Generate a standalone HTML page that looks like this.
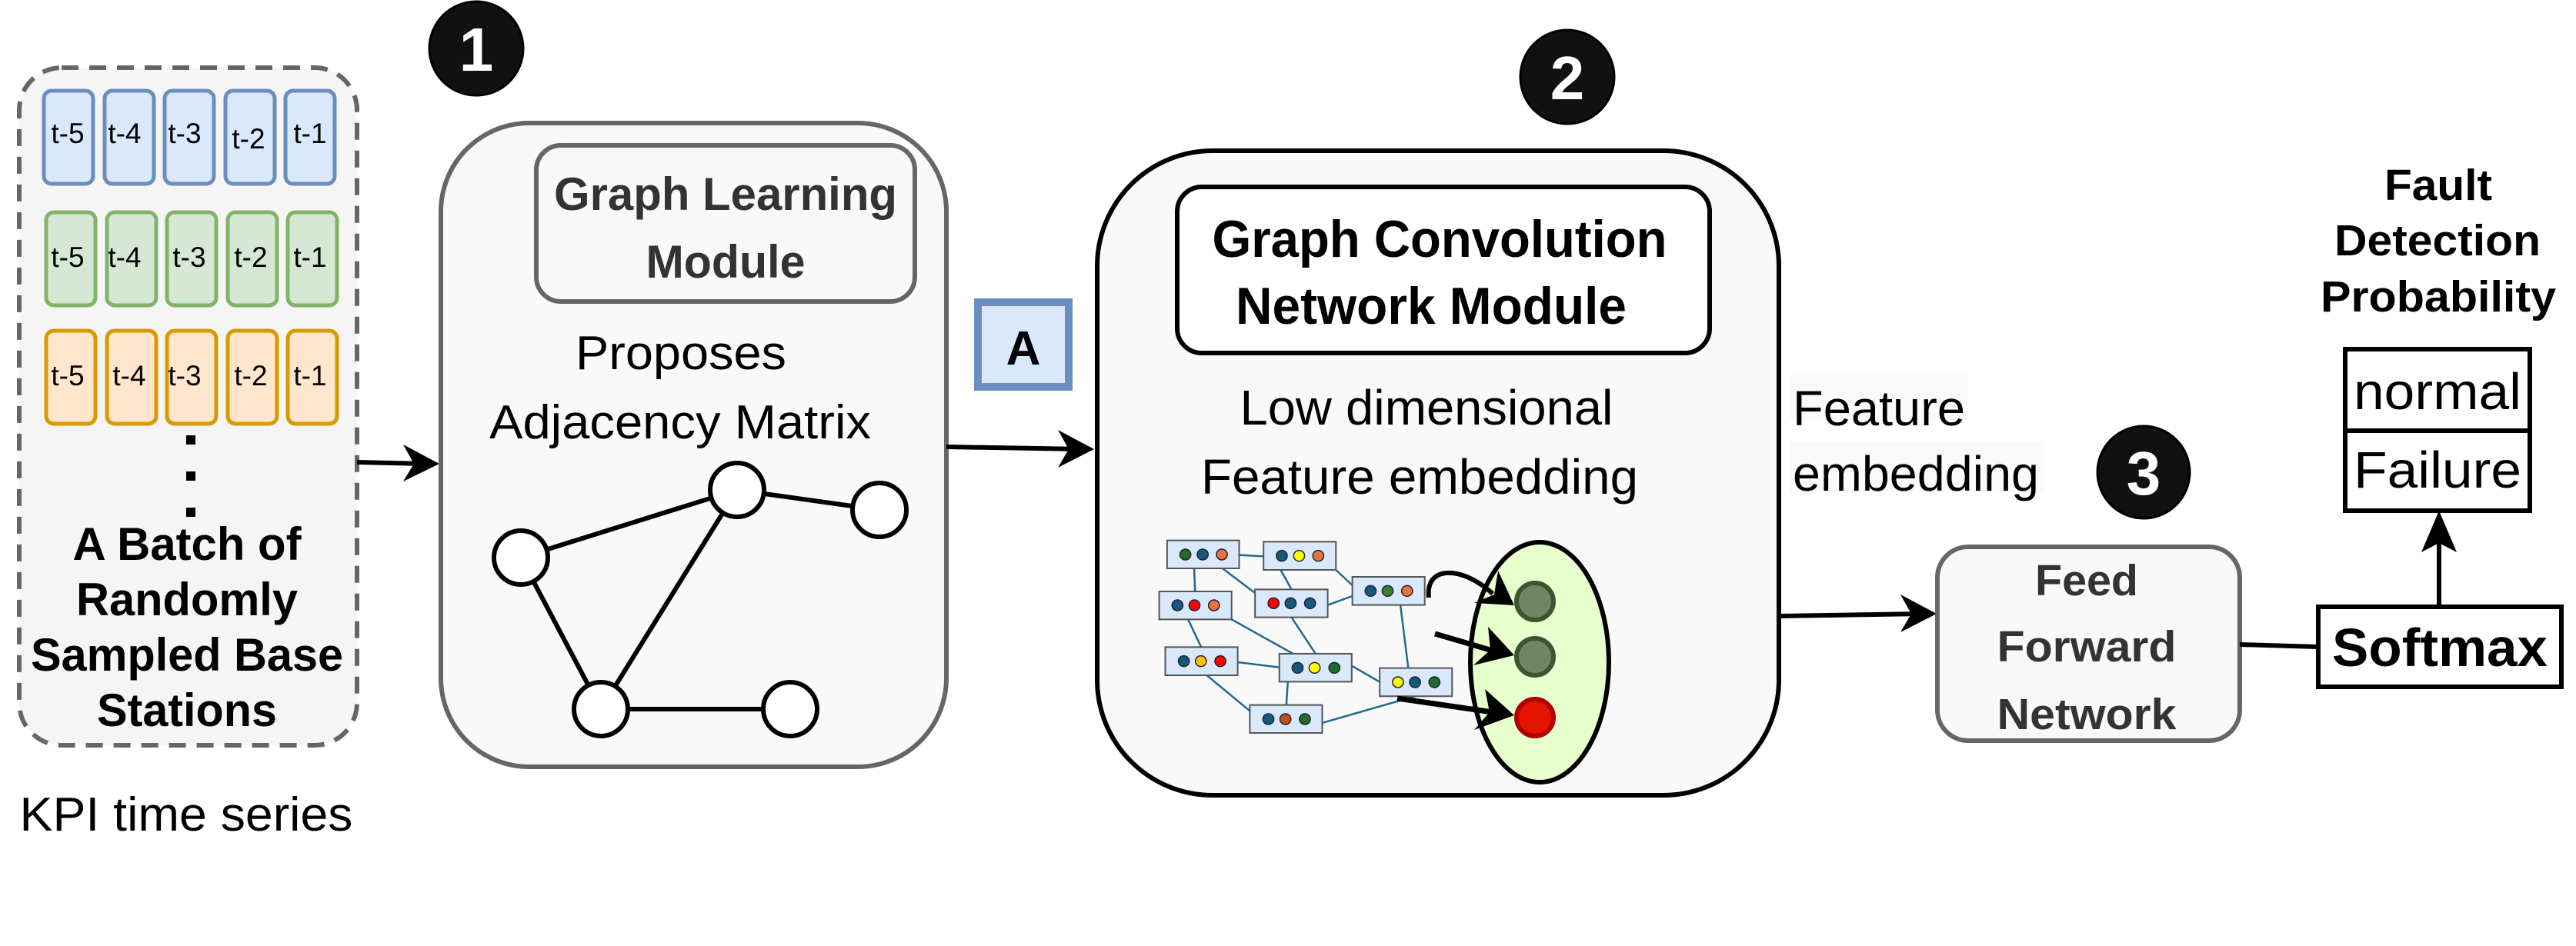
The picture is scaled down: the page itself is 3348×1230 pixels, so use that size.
<!DOCTYPE html>
<html><head><meta charset="utf-8"><style>
html,body{margin:0;padding:0;background:#fff;}
svg{display:block;}
text{font-family:"Liberation Sans",Arial,sans-serif;}
</style></head><body>
<svg width="3348" height="1230" viewBox="0 0 3348 1230" xmlns="http://www.w3.org/2000/svg">
<rect width="3348" height="1230" fill="#fff"/>

<!-- Batch dashed box -->
<rect x="25" y="88" width="439" height="881" rx="55" fill="#f5f5f5" stroke="#666" stroke-width="6" stroke-dasharray="22,14"/>
<g font-size="37" text-anchor="middle" fill="#000">
<g stroke="#6c8ebf" stroke-width="5" fill="#dae8fc">
<rect x="57" y="118" width="64" height="121" rx="10"/><rect x="136" y="118" width="64" height="121" rx="10"/><rect x="214" y="118" width="64" height="121" rx="10"/><rect x="293" y="118" width="64" height="121" rx="10"/><rect x="371" y="118" width="64" height="121" rx="10"/>
</g>
<g stroke="#82b366" stroke-width="5" fill="#d5e8d4">
<rect x="60" y="276" width="64" height="121" rx="10"/><rect x="139" y="276" width="64" height="121" rx="10"/><rect x="217" y="276" width="64" height="121" rx="10"/><rect x="296" y="276" width="64" height="121" rx="10"/><rect x="374" y="276" width="64" height="121" rx="10"/>
</g>
<g stroke="#d79b00" stroke-width="5" fill="#ffe6cc">
<rect x="60" y="430" width="64" height="121" rx="10"/><rect x="139" y="430" width="64" height="121" rx="10"/><rect x="217" y="430" width="64" height="121" rx="10"/><rect x="296" y="430" width="64" height="121" rx="10"/><rect x="374" y="430" width="64" height="121" rx="10"/>
</g>
<text x="88" y="186">t-5</text><text x="162" y="186">t-4</text><text x="240" y="186">t-3</text><text x="323" y="193">t-2</text><text x="403" y="186">t-1</text>
<text x="88" y="347">t-5</text><text x="162" y="347">t-4</text><text x="246" y="347">t-3</text><text x="326" y="347">t-2</text><text x="403" y="347">t-1</text>
<text x="88" y="501">t-5</text><text x="168" y="501">t-4</text><text x="240" y="501">t-3</text><text x="326" y="501">t-2</text><text x="403" y="501">t-1</text>
</g>
<rect x="242" y="566" width="12" height="12" fill="#000"/>
<rect x="242" y="613" width="12" height="12" fill="#000"/>
<rect x="242" y="660" width="12" height="12" fill="#000"/>
<g font-size="60" font-weight="bold" text-anchor="middle">
<text x="243" y="728" textLength="297" lengthAdjust="spacingAndGlyphs">A Batch of</text>
<text x="243" y="800" textLength="288" lengthAdjust="spacingAndGlyphs">Randomly</text>
<text x="243" y="872" textLength="406" lengthAdjust="spacingAndGlyphs">Sampled Base</text>
<text x="243" y="944" textLength="234" lengthAdjust="spacingAndGlyphs">Stations</text>
</g>
<text x="242" y="1080" font-size="62" text-anchor="middle" textLength="433" lengthAdjust="spacingAndGlyphs">KPI time series</text>

<!-- Circle 1 -->
<circle cx="619" cy="63" r="61" fill="#111" stroke="#000" stroke-width="3"/>
<text x="619" y="92" font-size="80" font-weight="bold" fill="#fff" text-anchor="middle">1</text>

<!-- arrow batch -> GL -->
<line x1="464" y1="601" x2="555" y2="603" stroke="#000" stroke-width="6"/>
<path d="M571,603 L524,578 L538,603 L524,626 Z" fill="#000"/>

<!-- GL box -->
<rect x="573" y="160" width="657" height="837" rx="115" fill="#f9f9f9" stroke="#666" stroke-width="6"/>
<rect x="697" y="189" width="492" height="203" rx="32" fill="#f9f9f9" stroke="#666" stroke-width="6"/>
<g font-size="60" font-weight="bold" fill="#333" text-anchor="middle">
<text x="943" y="273" textLength="446" lengthAdjust="spacingAndGlyphs">Graph Learning</text>
<text x="943" y="361" textLength="207" lengthAdjust="spacingAndGlyphs">Module</text>
</g>
<g font-size="62" text-anchor="middle">
<text x="885" y="480" textLength="274" lengthAdjust="spacingAndGlyphs">Proposes</text>
<text x="884" y="570" textLength="496" lengthAdjust="spacingAndGlyphs">Adjacency Matrix</text>
</g>
<g stroke="#000" stroke-width="6">
<line x1="677" y1="725" x2="958" y2="637"/>
<line x1="958" y1="637" x2="1143" y2="663"/>
<line x1="677" y1="725" x2="781" y2="922"/>
<line x1="958" y1="637" x2="781" y2="922"/>
<line x1="781" y1="922" x2="1027" y2="922"/>
</g>
<g fill="#fff" stroke="#000" stroke-width="6">
<ellipse cx="677" cy="725" rx="35" ry="35"/>
<ellipse cx="958" cy="637" rx="35" ry="35"/>
<ellipse cx="1143" cy="663" rx="35" ry="35"/>
<ellipse cx="781" cy="922" rx="35" ry="35"/>
<ellipse cx="1027" cy="922" rx="35" ry="35"/>
</g>

<!-- A box -->
<rect x="1271" y="393" width="118" height="110" fill="#dae8fc" stroke="#6c8ebf" stroke-width="10"/>
<text x="1330" y="474" font-size="62" font-weight="bold" text-anchor="middle">A</text>

<!-- arrow GL -> GCN -->
<line x1="1230" y1="581" x2="1405" y2="584" stroke="#000" stroke-width="6"/>
<path d="M1422,584 L1375,559 L1389,584 L1375,608 Z" fill="#000"/>

<!-- Circle 2 -->
<circle cx="2037" cy="100" r="61" fill="#111" stroke="#000" stroke-width="3"/>
<text x="2037" y="129" font-size="80" font-weight="bold" fill="#fff" text-anchor="middle">2</text>

<!-- GCN box -->
<rect x="1426" y="196" width="886" height="838" rx="150" fill="#f9f9f9" stroke="#000" stroke-width="6"/>
<rect x="1530" y="243" width="692" height="216" rx="32" fill="#fff" stroke="#000" stroke-width="6"/>
<g font-size="68" font-weight="bold" text-anchor="middle">
<text x="1871" y="334" textLength="591" lengthAdjust="spacingAndGlyphs">Graph Convolution</text>
<text x="1860" y="421" textLength="508" lengthAdjust="spacingAndGlyphs">Network Module</text>
</g>
<g font-size="64" text-anchor="middle">
<text x="1854" y="552" textLength="485" lengthAdjust="spacingAndGlyphs">Low dimensional</text>
<text x="1845" y="642" textLength="568" lengthAdjust="spacingAndGlyphs">Feature embedding</text>
</g>

<!-- mini graph -->
<g transform="translate(1490,680) scale(0.3953,0.3333)">
<g stroke="#1f6a8f" stroke-width="2.5" fill="none">
<line x1="305" y1="125" x2="385" y2="130" vector-effect="non-scaling-stroke"/>
<line x1="157" y1="177" x2="160" y2="267" vector-effect="non-scaling-stroke"/>
<line x1="250" y1="177" x2="357" y2="273" vector-effect="non-scaling-stroke"/>
<line x1="440" y1="180" x2="477" y2="259" vector-effect="non-scaling-stroke"/>
<line x1="623" y1="183" x2="677" y2="243" vector-effect="non-scaling-stroke"/>
<line x1="596" y1="320" x2="677" y2="285" vector-effect="non-scaling-stroke"/>
<line x1="137" y1="376" x2="180" y2="484" vector-effect="non-scaling-stroke"/>
<line x1="280" y1="376" x2="482" y2="510" vector-effect="non-scaling-stroke"/>
<line x1="477" y1="368" x2="556" y2="510" vector-effect="non-scaling-stroke"/>
<line x1="835" y1="320" x2="862" y2="576" vector-effect="non-scaling-stroke"/>
<line x1="300" y1="543" x2="437" y2="563" vector-effect="non-scaling-stroke"/>
<line x1="190" y1="586" x2="340" y2="733" vector-effect="non-scaling-stroke"/>
<line x1="675" y1="557" x2="767" y2="620" vector-effect="non-scaling-stroke"/>
<line x1="465" y1="619" x2="460" y2="710" vector-effect="non-scaling-stroke"/>
<line x1="578" y1="780" x2="883" y2="676" vector-effect="non-scaling-stroke"/>
</g>
<g fill="#dae8fc" stroke="#555" stroke-width="2">
<rect x="68" y="68" width="237" height="109" vector-effect="non-scaling-stroke"/>
<rect x="385" y="73" width="238" height="110" vector-effect="non-scaling-stroke"/>
<rect x="677" y="210" width="238" height="110" vector-effect="non-scaling-stroke"/>
<rect x="42" y="267" width="238" height="109" vector-effect="non-scaling-stroke"/>
<rect x="357" y="259" width="239" height="109" vector-effect="non-scaling-stroke"/>
<rect x="62" y="484" width="238" height="110" vector-effect="non-scaling-stroke"/>
<rect x="437" y="510" width="238" height="109" vector-effect="non-scaling-stroke"/>
<rect x="767" y="566" width="238" height="110" vector-effect="non-scaling-stroke"/>
<rect x="340" y="710" width="238" height="109" vector-effect="non-scaling-stroke"/>
</g>
<g stroke="#223" stroke-width="1.5">
<ellipse cx="128" cy="123" rx="18" ry="21" fill="#1e6b2a" vector-effect="non-scaling-stroke"/>
<ellipse cx="185" cy="123" rx="18" ry="21" fill="#155a7e" vector-effect="non-scaling-stroke"/>
<ellipse cx="248" cy="123" rx="18" ry="21" fill="#e8743b" vector-effect="non-scaling-stroke"/>
<ellipse cx="445" cy="128" rx="18" ry="21" fill="#155a7e" vector-effect="non-scaling-stroke"/>
<ellipse cx="502" cy="128" rx="18" ry="21" fill="#ffff00" vector-effect="non-scaling-stroke"/>
<ellipse cx="565" cy="128" rx="18" ry="21" fill="#e8743b" vector-effect="non-scaling-stroke"/>
<ellipse cx="737" cy="265" rx="18" ry="21" fill="#155a7e" vector-effect="non-scaling-stroke"/>
<ellipse cx="793" cy="265" rx="18" ry="21" fill="#3a8030" vector-effect="non-scaling-stroke"/>
<ellipse cx="857" cy="265" rx="18" ry="21" fill="#e8743b" vector-effect="non-scaling-stroke"/>
<ellipse cx="102" cy="321" rx="18" ry="21" fill="#155a7e" vector-effect="non-scaling-stroke"/>
<ellipse cx="158" cy="321" rx="18" ry="21" fill="#ff0000" vector-effect="non-scaling-stroke"/>
<ellipse cx="222" cy="321" rx="18" ry="21" fill="#e8743b" vector-effect="non-scaling-stroke"/>
<ellipse cx="418" cy="313" rx="18" ry="21" fill="#ff0000" vector-effect="non-scaling-stroke"/>
<ellipse cx="474" cy="313" rx="18" ry="21" fill="#155a7e" vector-effect="non-scaling-stroke"/>
<ellipse cx="538" cy="313" rx="18" ry="21" fill="#155a7e" vector-effect="non-scaling-stroke"/>
<ellipse cx="123" cy="539" rx="18" ry="21" fill="#155a7e" vector-effect="non-scaling-stroke"/>
<ellipse cx="179" cy="539" rx="18" ry="21" fill="#ffc000" vector-effect="non-scaling-stroke"/>
<ellipse cx="243" cy="539" rx="18" ry="21" fill="#ff0000" vector-effect="non-scaling-stroke"/>
<ellipse cx="497" cy="565" rx="18" ry="21" fill="#155a7e" vector-effect="non-scaling-stroke"/>
<ellipse cx="553" cy="565" rx="18" ry="21" fill="#ffff00" vector-effect="non-scaling-stroke"/>
<ellipse cx="618" cy="565" rx="18" ry="21" fill="#1e6b2a" vector-effect="non-scaling-stroke"/>
<ellipse cx="827" cy="621" rx="18" ry="21" fill="#ffff00" vector-effect="non-scaling-stroke"/>
<ellipse cx="883" cy="621" rx="18" ry="21" fill="#155a7e" vector-effect="non-scaling-stroke"/>
<ellipse cx="947" cy="621" rx="18" ry="21" fill="#1e6b2a" vector-effect="non-scaling-stroke"/>
<ellipse cx="401" cy="765" rx="18" ry="21" fill="#155a7e" vector-effect="non-scaling-stroke"/>
<ellipse cx="457" cy="765" rx="18" ry="21" fill="#c0501a" vector-effect="non-scaling-stroke"/>
<ellipse cx="521" cy="765" rx="18" ry="21" fill="#1e6b2a" vector-effect="non-scaling-stroke"/>
</g>
</g>

<!-- ellipse -->
<ellipse cx="2001" cy="861" rx="90" ry="156" fill="#e6ffcc" stroke="#000" stroke-width="6"/>
<circle cx="1995" cy="782" r="24" fill="#6d8764" stroke="#3a5530" stroke-width="6"/>
<circle cx="1995" cy="854" r="24" fill="#6d8764" stroke="#3a5530" stroke-width="6"/>
<circle cx="1995" cy="933" r="24" fill="#e51400" stroke="#b20000" stroke-width="6"/>
<path d="M1857,777 C1852,735 1900,735 1940,772" fill="none" stroke="#000" stroke-width="6"/>
<path d="M1968,787 L1947,742 L1942,773 L1916,784 Z" fill="#000"/>
<line x1="1865" y1="824" x2="1940" y2="846" stroke="#000" stroke-width="7"/>
<path d="M1968,852 L1934,815 L1937,845 L1915,865 Z" fill="#000"/>
<line x1="1816" y1="908" x2="1940" y2="926" stroke="#000" stroke-width="7"/>
<path d="M1968,930 L1930,896 L1936,926 L1916,949 Z" fill="#000"/>

<!-- Feature embedding label -->
<rect x="2326" y="488" width="232" height="58" fill="#fafafa"/>
<rect x="2326" y="574" width="330" height="66" fill="#fafafa"/>
<g font-size="64">
<text x="2330" y="553" textLength="224" lengthAdjust="spacingAndGlyphs">Feature</text>
<text x="2330" y="638" textLength="320" lengthAdjust="spacingAndGlyphs">embedding</text>
</g>

<!-- arrow GCN -> FFN -->
<line x1="2312" y1="801" x2="2500" y2="798" stroke="#000" stroke-width="6"/>
<path d="M2517,798 L2470,773 L2484,798 L2470,822 Z" fill="#000"/>

<!-- Circle 3 -->
<circle cx="2786" cy="614" r="60" fill="#111" stroke="#000" stroke-width="3"/>
<text x="2786" y="643" font-size="80" font-weight="bold" fill="#fff" text-anchor="middle">3</text>

<!-- FFN -->
<rect x="2518" y="711" width="393" height="252" rx="40" fill="#f9f9f9" stroke="#666" stroke-width="6"/>
<g font-size="57" font-weight="bold" fill="#333" text-anchor="middle">
<text x="2712" y="774" textLength="134" lengthAdjust="spacingAndGlyphs">Feed</text>
<text x="2712" y="860" textLength="233" lengthAdjust="spacingAndGlyphs">Forward</text>
<text x="2712" y="948" textLength="233" lengthAdjust="spacingAndGlyphs">Network</text>
</g>
<line x1="2911" y1="838" x2="3012" y2="841" stroke="#000" stroke-width="6"/>

<!-- Softmax -->
<rect x="3013" y="789" width="316" height="104" fill="#fff" stroke="#000" stroke-width="6"/>
<text x="3171" y="866" font-size="70" font-weight="bold" text-anchor="middle" textLength="280" lengthAdjust="spacingAndGlyphs">Softmax</text>
<line x1="3170" y1="789" x2="3170" y2="700" stroke="#000" stroke-width="6"/>
<path d="M3170,664 L3147,718 L3170,706 L3193,718 Z" fill="#000"/>

<!-- normal/Failure -->
<rect x="3048" y="454" width="240" height="210" fill="#fff" stroke="#000" stroke-width="6"/>
<line x1="3048" y1="560" x2="3288" y2="560" stroke="#000" stroke-width="6"/>
<g font-size="67" text-anchor="middle">
<text x="3168" y="532" textLength="218" lengthAdjust="spacingAndGlyphs">normal</text>
<text x="3168" y="634" textLength="218" lengthAdjust="spacingAndGlyphs">Failure</text>
</g>
<g font-size="57" font-weight="bold" text-anchor="middle">
<text x="3169" y="260" textLength="140" lengthAdjust="spacingAndGlyphs">Fault</text>
<text x="3168" y="332" textLength="268" lengthAdjust="spacingAndGlyphs">Detection</text>
<text x="3169" y="405" textLength="306" lengthAdjust="spacingAndGlyphs">Probability</text>
</g>
</svg>
</body></html>
